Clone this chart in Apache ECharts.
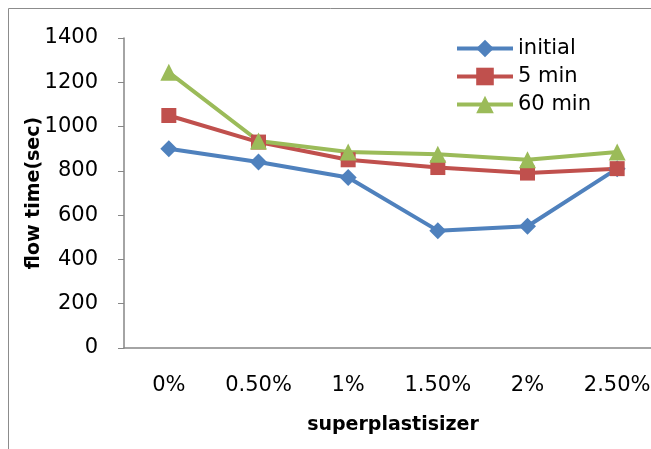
<!DOCTYPE html>
<html><head><meta charset="utf-8">
<script src="https://cdn.jsdelivr.net/npm/echarts@6/dist/echarts.min.js"></script>
<style>html,body{margin:0;padding:0;background:#fff}#c{width:651px;height:449px}</style>
</head><body><div id="c"></div>
<script>
var categories = ['0%', '0.50%', '1%', '1.50%', '2%', '2.50%'];
var initialVals = [900, 840, 770, 530, 550, 810];
var min5Vals = [1050, 930, 850, 815, 790, 810];
var min60Vals = [1245, 935, 885, 875, 850, 885];
var yTicks = [0, 200, 400, 600, 800, 1000, 1200, 1400];

var chart = echarts.init(document.getElementById('c'));
var FONT = 'DejaVu Sans';
function s(name, data, color, symbol, size) {
  return {
    name: name, type: 'line', data: data, symbol: symbol, symbolSize: size,
    lineStyle: {color: color, width: 4}, itemStyle: {color: color},
    emphasis: {disabled: true}, animation: false
  };
}
chart.setOption({
  animation: false,
  graphic: [{type: 'rect', shape: {x: 8.5, y: 8.5, width: 700, height: 500},
    style: {fill: 'none', stroke: '#8c8c8c', lineWidth: 1}, silent: true}],
  grid: {left: 124, top: 38, width: 538, height: 310, outerBoundsMode: 'none'},
  legend: {
    orient: 'vertical', left: 450, top: 33, itemWidth: 56, itemHeight: 22, itemGap: 7,
    lineStyle: {width: 4},
    textStyle: {fontFamily: FONT, fontSize: 21, color: '#000'},
    data: ['initial', '5 min', '60 min']
  },
  xAxis: {
    type: 'category', data: categories,
    axisLine: {lineStyle: {color: '#868686', width: 1.5}},
    axisTick: {show: false},
    axisLabel: {fontFamily: FONT, fontSize: 21, color: '#000', margin: 27},
    name: 'superplastisizer', nameLocation: 'middle', nameGap: 68, nameMoveOverlap: false,
    nameTextStyle: {fontFamily: FONT, fontSize: 19, fontWeight: 'bold', color: '#000'}
  },
  yAxis: {
    type: 'value', min: yTicks[0], max: yTicks[yTicks.length - 1], interval: 200,
    axisLine: {show: true, lineStyle: {color: '#868686', width: 1.5}},
    axisTick: {show: true, length: 6, lineStyle: {color: '#868686'}},
    splitLine: {show: false},
    axisLabel: {fontFamily: FONT, fontSize: 21, color: '#000', margin: 26, formatter: function (v) { return String(v); }},
    name: 'flow time(sec)', nameLocation: 'middle', nameGap: 80, nameMoveOverlap: false,
    nameTextStyle: {fontFamily: FONT, fontSize: 19, fontWeight: 'bold', color: '#000'}
  },
  series: [
    s('initial', initialVals, '#4F81BD', 'diamond', 17),
    s('5 min', min5Vals, '#C0504D', 'rect', 15),
    s('60 min', min60Vals, '#9BBB59', 'triangle', 17)
  ]
});
</script></body></html>
